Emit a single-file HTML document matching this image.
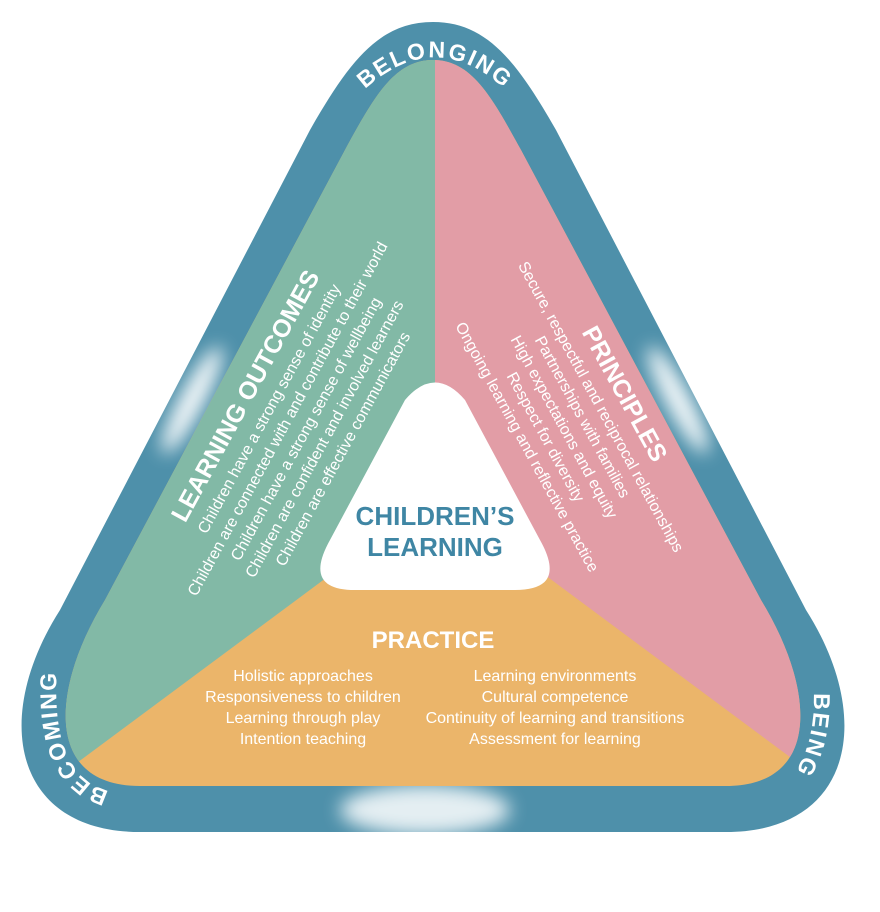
<!DOCTYPE html>
<html><head><meta charset="utf-8"><style>
html,body{margin:0;padding:0;background:#fff;width:880px;height:912px;overflow:hidden}
svg{display:block}
text{font-family:"Liberation Sans",sans-serif;fill:#fff}
</style></head><body>
<svg width="880" height="912" viewBox="0 0 880 912">
<defs>
<clipPath id="innerClip"><path d="M433 60 C395 60 375 95 345 150 L105 600 C50 690 45 786 140 786 L726 786 C821 786 816 690 761 600 L521 150 C491 95 471 60 433 60 Z"/></clipPath>
<clipPath id="outerClip"><path d="M433 22 C380 22 350 60 310 130 L60 610 C-10 720 15 832 140 832 L726 832 C851 832 876 720 806 610 L556 130 C516 60 486 22 433 22 Z"/></clipPath>
<filter id="blur" x="-50%" y="-50%" width="200%" height="200%"><feGaussianBlur stdDeviation="9"/></filter>
<path id="belongPath" d="M345 110 Q435 5 525 110"/>
<path id="becomePath" d="M125 793 Q45 790 58 655"/>
<path id="beingPath" d="M812 670 Q822 750 780 790"/>
</defs>
<g>
<path d="M433 22 C380 22 350 60 310 130 L60 610 C-10 720 15 832 140 832 L726 832 C851 832 876 720 806 610 L556 130 C516 60 486 22 433 22 Z" fill="#4e90aa"/>
<g clip-path="url(#outerClip)" filter="url(#blur)">
<ellipse cx="192" cy="400" rx="12" ry="60" fill="#fff" opacity="0.95" transform="rotate(28 192 400)"/>
<ellipse cx="678" cy="400" rx="12" ry="60" fill="#fff" opacity="0.95" transform="rotate(-28 678 400)"/>
<ellipse cx="425" cy="810" rx="85" ry="25" fill="#fff" opacity="0.85"/>
</g>
</g>
<g clip-path="url(#innerClip)">
<rect x="0" y="0" width="880" height="912" fill="#ebb56a"/>
<polygon points="435,0 435,580 330,575 0,820 0,0" fill="#82b9a6"/>
<polygon points="435,0 880,0 880,824 545,575 435,580" fill="#e29da6"/>
</g>
<path d="M405 400 Q435 365 465 400 L540 540 Q568 590 515 590 L355 590 Q302 590 330 540 Z" fill="#fff"/>
<g>
<text x="435" y="525" text-anchor="middle" font-size="26" font-weight="bold" style="fill:#3f86a4">CHILDREN’S</text>
<text x="435" y="556" text-anchor="middle" font-size="26" font-weight="bold" style="fill:#3f86a4">LEARNING</text>
</g>
<g transform="translate(308,430) rotate(-61.4)" text-anchor="middle">
<text y="-63" font-size="25" font-weight="bold">LEARNING OUTCOMES</text>
<text y="-39" font-size="16">Children have a strong sense of identity</text>
<text y="-18" font-size="16">Children are connected with and contribute to their world</text>
<text y="3" font-size="16">Children have a strong sense of wellbeing</text>
<text y="24" font-size="16">Children are confident and involved learners</text>
<text y="45" font-size="16">Children are effective communicators</text>
</g>
<g transform="translate(562,428) rotate(61.4)" text-anchor="middle">
<text y="-63" font-size="25" font-weight="bold">PRINCIPLES</text>
<text y="-39" font-size="16">Secure, respectful and reciprocal relationships</text>
<text y="-18" font-size="16">Partnerships with families</text>
<text y="3" font-size="16">High expectations and equity</text>
<text y="24" font-size="16">Respect for diversity</text>
<text y="45" font-size="16">Ongoing learning and reflective practice</text>
</g>
<g text-anchor="middle">
<text x="433" y="648" font-size="24" font-weight="bold">PRACTICE</text>
<text x="303" y="681" font-size="16">Holistic approaches</text>
<text x="303" y="702" font-size="16">Responsiveness to children</text>
<text x="303" y="723" font-size="16">Learning through play</text>
<text x="303" y="744" font-size="16">Intention teaching</text>
<text x="555" y="681" font-size="16">Learning environments</text>
<text x="555" y="702" font-size="16">Cultural competence</text>
<text x="555" y="723" font-size="16">Continuity of learning and transitions</text>
<text x="555" y="744" font-size="16">Assessment for learning</text>
</g>
<text font-size="23" font-weight="bold" letter-spacing="2"><textPath href="#belongPath" startOffset="50%" text-anchor="middle">BELONGING</textPath></text>
<text font-size="23" font-weight="bold" letter-spacing="2"><textPath href="#becomePath" startOffset="50%" text-anchor="middle">BECOMING</textPath></text>
<text font-size="23" font-weight="bold" letter-spacing="2"><textPath href="#beingPath" startOffset="50%" text-anchor="middle">BEING</textPath></text>
</svg>
</body></html>
